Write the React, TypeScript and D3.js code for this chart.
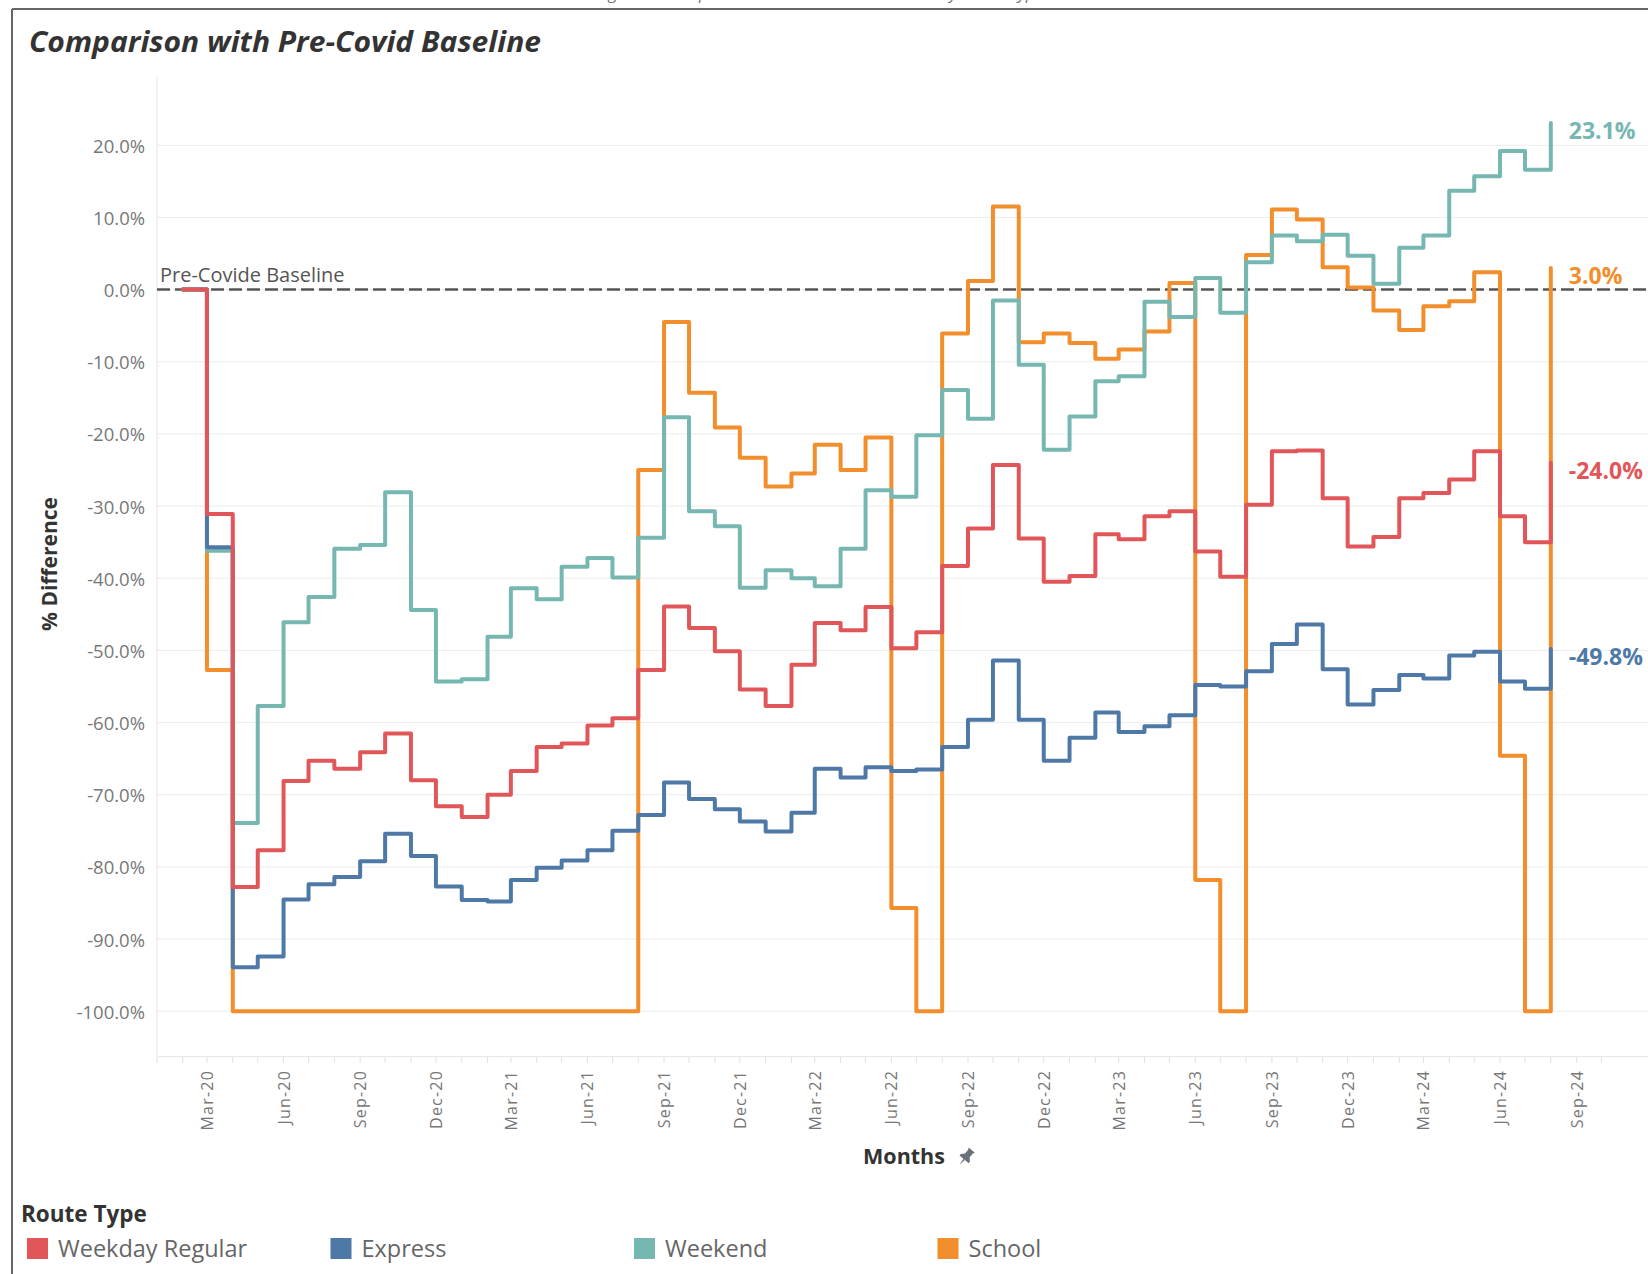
import React from "react";
import * as d3 from "d3";

// ---------- DATA ----------
const months = [
  "Feb-20","Mar-20","Apr-20","May-20","Jun-20","Jul-20","Aug-20","Sep-20","Oct-20","Nov-20","Dec-20",
  "Jan-21","Feb-21","Mar-21","Apr-21","May-21","Jun-21","Jul-21","Aug-21","Sep-21","Oct-21","Nov-21","Dec-21",
  "Jan-22","Feb-22","Mar-22","Apr-22","May-22","Jun-22","Jul-22","Aug-22","Sep-22","Oct-22","Nov-22","Dec-22",
  "Jan-23","Feb-23","Mar-23","Apr-23","May-23","Jun-23","Jul-23","Aug-23","Sep-23","Oct-23","Nov-23","Dec-23",
  "Jan-24","Feb-24","Mar-24","Apr-24","May-24","Jun-24","Jul-24","Aug-24",
];

const weekdayRegular = [
  0, -31.1, -82.8, -77.7, -68.1, -65.3, -66.4, -64.1, -61.5, -68.0, -71.6,
  -73.1, -70.0, -66.7, -63.4, -62.9, -60.4, -59.4, -52.7, -43.9, -46.9, -50.1, -55.4,
  -57.7, -52.0, -46.2, -47.2, -44.0, -49.7, -47.5, -38.3, -33.1, -24.3, -34.5, -40.5,
  -39.7, -33.9, -34.6, -31.4, -30.7, -36.3, -39.8, -29.8, -22.4, -22.3, -28.9, -35.6,
  -34.3, -28.9, -28.2, -26.3, -22.4, -31.4, -35.0, -24.0,
];

const express = [
  0, -35.7, -93.9, -92.4, -84.5, -82.4, -81.4, -79.2, -75.4, -78.5, -82.7,
  -84.6, -84.8, -81.8, -80.1, -79.1, -77.7, -75.0, -72.8, -68.3, -70.6, -72.0, -73.7,
  -75.1, -72.5, -66.4, -67.6, -66.2, -66.7, -66.5, -63.4, -59.6, -51.4, -59.6, -65.3,
  -62.1, -58.6, -61.3, -60.5, -59.0, -54.8, -55.0, -52.9, -49.1, -46.4, -52.6, -57.5,
  -55.5, -53.4, -53.9, -50.7, -50.2, -54.3, -55.3, -49.8,
];

const weekend = [
  0, -36.2, -73.9, -57.7, -46.1, -42.6, -35.9, -35.4, -28.1, -44.4, -54.3,
  -54.0, -48.1, -41.4, -42.9, -38.4, -37.2, -39.9, -34.4, -17.7, -30.7, -32.8, -41.3,
  -38.9, -40.0, -41.1, -35.9, -27.8, -28.7, -20.2, -13.9, -17.9, -1.5, -10.4, -22.2,
  -17.6, -12.7, -12.0, -1.7, -3.8, 1.6, -3.2, 3.8, 7.5, 6.7, 7.6, 4.7,
  0.8, 5.8, 7.5, 13.7, 15.7, 19.2, 16.6, 23.1,
];

const school = [
  0, -52.7, -100, -100, -100, -100, -100, -100, -100, -100, -100,
  -100, -100, -100, -100, -100, -100, -100, -25.0, -4.5, -14.3, -19.1, -23.3,
  -27.3, -25.5, -21.5, -25.0, -20.5, -85.7, -100, -6.1, 1.2, 11.5, -7.3, -6.1,
  -7.4, -9.6, -8.3, -5.8, 0.9, -81.8, -100, 4.8, 11.1, 9.7, 3.1, 0.3,
  -2.9, -5.6, -2.3, -1.6, 2.4, -64.6, -100, 3.0,
];

const seriesNames = ["Weekday Regular", "Express", "Weekend", "School"];
const seriesColors = ["#e15759", "#4e79a7", "#76b7b2", "#f28e2b"];
const yTicks = [20, 10, 0, -10, -20, -30, -40, -50, -60, -70, -80, -90, -100];
const xTickLabels = [
  "Mar-20","Jun-20","Sep-20","Dec-20","Mar-21","Jun-21","Sep-21","Dec-21","Mar-22","Jun-22",
  "Sep-22","Dec-22","Mar-23","Jun-23","Sep-23","Dec-23","Mar-24","Jun-24","Sep-24",
];

const FONT = "'Open Sans', 'DejaVu Sans', sans-serif";

export default function App() {
  const W = 1648;
  const H = 1274;
  const parse = d3.timeParse("%b-%y");
  const dates = months.map((m) => parse(m) as Date);

  const plotLeft = 157;
  const plotTop = 76.7;
  const plotBottom = 1056.7;

  const x = d3
    .scaleTime()
    .domain([new Date(2020, 0, 1), new Date(2024, 9, 1)])
    .range([plotLeft, 1601.6]);
  const y = d3.scaleLinear().domain([-106.3, 29.5]).range([plotBottom, plotTop]);

  const line = d3
    .line<number>()
    .x((_, i) => x(dates[i]))
    .y((d) => y(d))
    .curve(d3.curveStepAfter);

  const data = [weekdayRegular, express, weekend, school];
  const drawOrder = [3, 2, 1, 0];
  const monthTicks = x.ticks(d3.timeMonth.every(1) as any);
  const f1 = d3.format(".1f");
  const fmt = (v: number) => f1(v).replace("\u2212", "-") + "%";

  const legendX0 = 27;
  const legendStep = 303.5;

  return (
    <svg
      width={W}
      height={H}
      viewBox={`0 0 ${W} ${H}`}
      style={{ position: "absolute", left: 0, top: 0, display: "block", background: "#fff" }}
      fontFamily={FONT}
    >
      <rect x={0} y={0} width={W} height={H} fill="#fff" />

      {/* caption of the page above, cut off at the top edge as in the reference */}
      <text x={820} y={-1} textAnchor="middle" fontStyle="italic" fontSize={17} fill="#777">
        Figure 4: Comparison with Pre-Covid Baseline by Route Type
      </text>

      {/* frame */}
      <line x1={12} x2={W} y1={9} y2={9} stroke="#666" strokeWidth={2} />
      <line x1={12} x2={12} y1={9} y2={H} stroke="#666" strokeWidth={2} />

      {/* title */}
      <text
        x={29}
        y={52}
        fontSize={28}
        fontWeight={700}
        fontStyle="italic"
        fill="#333"
        textLength={512}
        lengthAdjust="spacingAndGlyphs"
      >
        Comparison with Pre-Covid Baseline
      </text>

      {/* gridlines */}
      {yTicks.map((t) => (
        <line key={"g" + t} x1={plotLeft} x2={W} y1={y(t)} y2={y(t)} stroke="#ececec" strokeWidth={1} />
      ))}
      {/* axes lines */}
      <line x1={plotLeft} x2={plotLeft} y1={plotTop} y2={plotBottom} stroke="#e4e4e4" strokeWidth={1} />
      <line x1={plotLeft} x2={W} y1={plotBottom} y2={plotBottom} stroke="#e4e4e4" strokeWidth={1} />
      {monthTicks.map((d, i) => (
        <line
          key={"mt" + i}
          x1={x(d)}
          x2={x(d)}
          y1={plotBottom}
          y2={plotBottom + 6}
          stroke="#e0e0e0"
          strokeWidth={1}
        />
      ))}

      {/* y tick labels */}
      {yTicks.map((t) => (
        <text
          key={"yt" + t}
          x={145}
          y={y(t)}
          textAnchor="end"
          dominantBaseline="central"
          fontSize={18.5}
          fill="#777"
        >
          {fmt(t)}
        </text>
      ))}

      {/* x tick labels */}
      {xTickLabels.map((lbl) => {
        const d = parse(lbl) as Date;
        const xx = x(d);
        return (
          <text
            key={"xt" + lbl}
            transform={`translate(${xx},1070) rotate(-90)`}
            textAnchor="end"
            dominantBaseline="central"
            fontSize={16}
            letterSpacing={1.2}
            fill="#777"
          >
            {lbl}
          </text>
        );
      })}

      {/* axis titles */}
      <text
        transform="translate(49,564) rotate(-90)"
        textAnchor="middle"
        dominantBaseline="central"
        fontSize={21}
        fontWeight={700}
        fill="#333"
      >
        % Difference
      </text>
      <text x={904} y={1164} textAnchor="middle" fontSize={21.5} fontWeight={700} fill="#333">
        Months
      </text>
      {/* pin icon */}
      <g transform="translate(966,1157) rotate(40)" fill="#6b717a">
        <path d="M -4 -9 L 4 -9 L 3 -7 L 3 -2 L 6 1 L 6 3 L -6 3 L -6 1 L -3 -2 L -3 -7 Z" />
        <path d="M -0.9 3 L 0.9 3 L 0 10 Z" />
      </g>

      {/* baseline reference */}
      <line
        x1={plotLeft}
        x2={W}
        y1={y(0)}
        y2={y(0)}
        stroke="#555"
        strokeWidth={2.5}
        strokeDasharray="13 5"
      />
      <text x={160} y={281.7} fontSize={20} fill="#555">
        Pre-Covide Baseline
      </text>

      {/* series lines */}
      {drawOrder.map((si) => (
        <path
          key={"s" + si}
          d={line(data[si]) || ""}
          fill="none"
          stroke={seriesColors[si]}
          strokeWidth={4}
          strokeLinejoin="round"
          strokeLinecap="round"
        />
      ))}

      {/* end labels */}
      {data.map((vals, si) => {
        const last = vals[vals.length - 1];
        return (
          <text
            key={"el" + si}
            x={x(dates[dates.length - 1]) + 18}
            y={y(last) + 16.5}
            fontSize={23}
            fontWeight={700}
            fill={seriesColors[si]}
          >
            {fmt(last)}
          </text>
        );
      })}

      {/* legend */}
      <text x={21} y={1222} fontSize={22.5} fontWeight={700} fill="#333">
        Route Type
      </text>
      {seriesNames.map((name, i) => (
        <g key={"lg" + i}>
          <rect x={legendX0 + i * legendStep} y={1238} width={21} height={21} fill={seriesColors[i]} />
          <text x={legendX0 + i * legendStep + 31} y={1257} fontSize={23.5} fill="#666">
            {name}
          </text>
        </g>
      ))}
    </svg>
  );
}
